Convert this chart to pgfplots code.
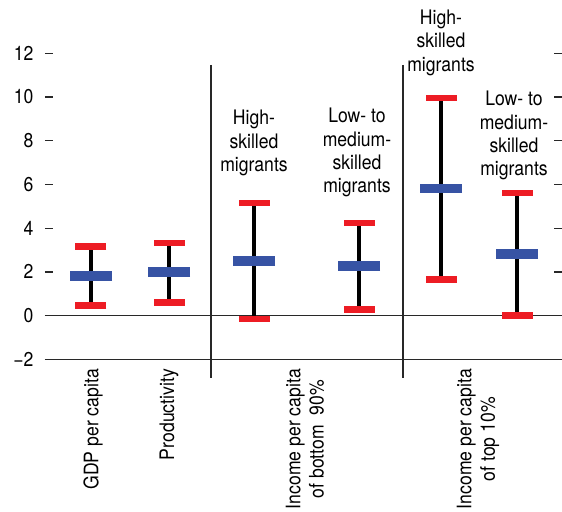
\documentclass[border=0pt]{standalone}
\usepackage{fontspec}
\setmainfont{TeX Gyre Heros}[FakeStretch=0.88]
\usepackage{pgfplots}
\pgfplotsset{compat=1.18}
\usepackage{pgfplotstable}

\definecolor{capred}{RGB}{237,28,36}
\definecolor{midblue}{RGB}{55,83,164}
\definecolor{axgray}{RGB}{40,40,40}
\newcommand{\lab}{\fontsize{20}{23.3}\selectfont}

% x = horizontal position of each estimate, lo/mid/hi = range and point estimate
\pgfplotstableread{
x    lo     mid    hi
91   0.46   1.82   3.15
169  0.60   1.98   3.32
254  -0.15  2.51   5.15
359  0.27   2.26   4.24
441  1.64   5.82   9.95
517  0.02   2.83   5.61
}\ranges

\begin{document}
\begin{tikzpicture}
\begin{axis}[
    scale only axis,
    width=517pt, height=306pt,
    xmin=45, xmax=562, ymin=-2, ymax=12,
    axis line style={draw=none},
    xtick=\empty,
    ytick={-2,0,...,12},
    yticklabels={−2,0,2,4,6,8,10,12},
    yticklabel pos=left,
    tick align=inside,
    major tick length=8pt,
    tick style={axgray, line width=1.2pt},
    tick label style={font=\lab, black},
    yticklabel style={xshift=-8pt},
    clip=false,
]
\draw[axgray, line width=1.2pt] (axis cs:45,-2) -- (axis cs:562,-2);
\draw[axgray, line width=1.2pt] (axis cs:45,0) -- (axis cs:562,0);
\draw[axgray, line width=1.5pt] (axis cs:211,11.47) -- (axis cs:211,-2.85);
\draw[axgray, line width=1.5pt] (axis cs:403,11.47) -- (axis cs:403,-2.85);

\addplot[only marks, mark=none, forget plot,
    error bars/.cd, y dir=both, y explicit, error mark=none,
    error bar style={black, line width=3.1pt}]
    table[x=x, y=mid,
          y error plus expr=\thisrow{hi}-\thisrow{mid},
          y error minus expr=\thisrow{mid}-\thisrow{lo}] {\ranges};
\addplot[only marks, mark=-, mark size=15.5pt,
    mark options={capred, line width=6.7pt}] table[x=x, y=hi] {\ranges};
\addplot[only marks, mark=-, mark size=15.5pt,
    mark options={capred, line width=6.7pt}] table[x=x, y=lo] {\ranges};
\addplot[only marks, mark=-, mark size=21pt,
    mark options={midblue, line width=9.7pt}] table[x=x, y=mid] {\ranges};

\node[anchor=north, align=center, inner sep=0pt, font=\lab] at (axis cs:254,9.41) {High-\\skilled\\migrants};
\node[anchor=north, align=center, inner sep=0pt, font=\lab] at (axis cs:357,9.50) {Low- to\\medium-\\skilled\\migrants};
\node[anchor=north, align=center, inner sep=0pt, font=\lab] at (axis cs:441,13.99) {High-\\skilled\\migrants};
\node[anchor=north, align=center, inner sep=0pt, font=\lab] at (axis cs:514,10.28) {Low- to\\medium-\\skilled\\migrants};

\node[rotate=90, anchor=east, align=center, inner sep=0pt, font=\lab] at (axis cs:93,-2.44) {GDP per capita};
\node[rotate=90, anchor=east, align=center, inner sep=0pt, font=\lab] at (axis cs:169,-2.44) {Productivity};
\node[rotate=90, anchor=east, align=center, inner sep=0pt, font=\lab] at (axis cs:305,-2.44) {Income per capita\\of bottom\ \ 90\%};
\node[rotate=90, anchor=east, align=center, inner sep=0pt, font=\lab] at (axis cs:478,-2.44) {Income per capita\\of top 10\%};

\coordinate (bl) at (axis cs:0,-8.98);
\coordinate (tr) at (axis cs:562,14.44);
\end{axis}
\pgfresetboundingbox
\useasboundingbox (bl) rectangle (tr);
\end{tikzpicture}
\end{document}
